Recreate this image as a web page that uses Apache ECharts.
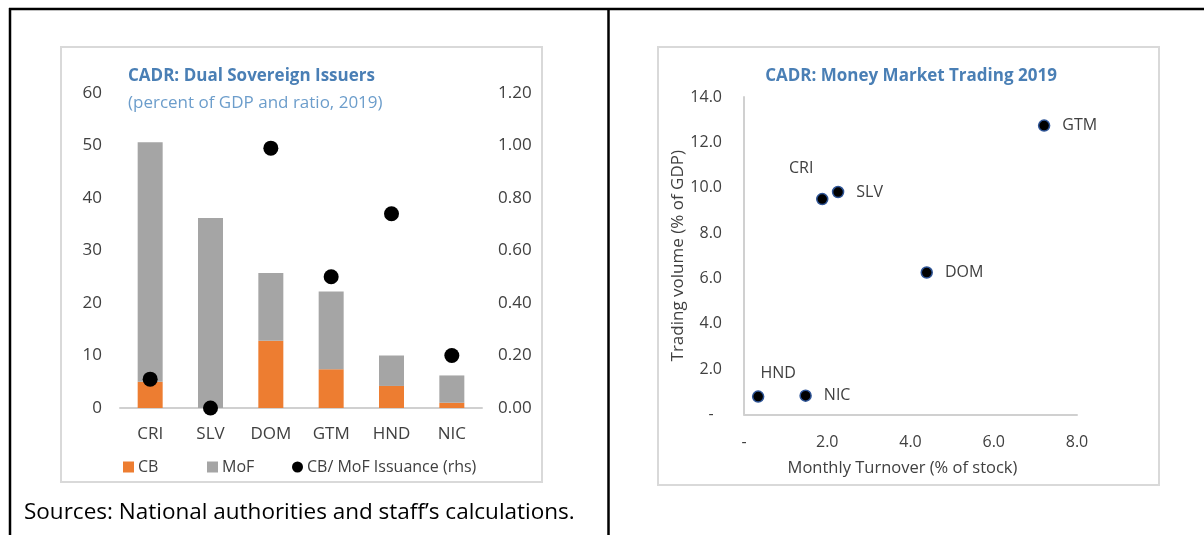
<!DOCTYPE html>
<html>
<head>
<meta charset="utf-8">
<script src="https://cdn.jsdelivr.net/npm/echarts@6/dist/echarts.min.js"></script>
<style>
html,body{margin:0;padding:0;background:#fff;}
#c{width:1204px;height:535px;}
</style>
</head>
<body>
<div id="c"></div>
<script>
// ---- Left chart data ----
const issuers = ['CRI', 'SLV', 'DOM', 'GTM', 'HND', 'NIC'];
const cbValues = [5.0, 0.0, 12.8, 7.4, 4.2, 1.0];
const mofValues = [45.6, 36.2, 12.9, 14.8, 5.8, 5.2];
const ratioValues = [0.11, 0.00, 0.99, 0.50, 0.74, 0.20];
const leftTicks = [0, 10, 20, 30, 40, 50, 60];
const rightTicks = ['0.00', '0.20', '0.40', '0.60', '0.80', '1.00', '1.20'];

// ---- Right chart data ----
const mmCountries = ['GTM', 'CRI', 'SLV', 'DOM', 'HND', 'NIC'];
const turnover = [7.21, 1.88, 2.26, 4.39, 0.34, 1.48];
const tradingVolume = [12.74, 9.50, 9.81, 6.26, 0.79, 0.83];

const FONT = 'Open Sans';
const TXT = '#404040';
const AX = '#D0D0D0';

const chart = echarts.init(document.getElementById('c'), null, {renderer: 'canvas'});

const labelPos = {
  CRI: {position: 'top', offset: [-21, -4]},
  HND: {position: 'top', offset: [20, 3]}
};

const mmData = mmCountries.map((n, i) => {
  const d = {name: n, value: [turnover[i], tradingVolume[i]]};
  if (labelPos[n]) d.label = labelPos[n];
  return d;
});

const fmtMM = v => (v === 0 ? '-  ' : v.toFixed(1));
const fmtMMx = v => (v === 0 ? '-' : v.toFixed(1));

const option = {
  animation: false,
  backgroundColor: '#fff',
  textStyle: {fontFamily: FONT},
  title: [
    {text: 'CADR: Dual Sovereign Issuers', left: 128, top: 68, padding: 0,
     textStyle: {fontFamily: FONT, fontSize: 17, fontWeight: 'bold', color: '#4A7FB5'}},
    {text: '(percent of GDP and ratio, 2019)', left: 128, top: 95, padding: 0,
     textStyle: {fontFamily: FONT, fontSize: 17, fontWeight: 'normal', color: '#6C9DCB'}},
    {text: 'CADR: Money Market Trading 2019', left: 911, textAlign: 'center', top: 68, padding: 0,
     textStyle: {fontFamily: FONT, fontSize: 17, fontWeight: 'bold', color: '#4A7FB5'}}
  ],
  graphic: [
    {type: 'rect', shape: {x: 61, y: 47, width: 481, height: 435}, style: {fill: 'none', stroke: '#D9D9D9', lineWidth: 2}, z: -1},
    {type: 'rect', shape: {x: 658, y: 47, width: 501, height: 438}, style: {fill: 'none', stroke: '#D9D9D9', lineWidth: 2}, z: -1},
    {type: 'line', shape: {x1: 9, y1: 9, x2: 1204, y2: 9}, style: {stroke: '#000', lineWidth: 2.5}},
    {type: 'line', shape: {x1: 10, y1: 8, x2: 10, y2: 535}, style: {stroke: '#000', lineWidth: 2.5}},
    {type: 'line', shape: {x1: 608.5, y1: 8, x2: 608.5, y2: 535}, style: {stroke: '#000', lineWidth: 2.5}},
    {type: 'text', left: 24, top: 501,
     style: {text: 'Sources: National authorities and staff\u2019s calculations.', fontFamily: FONT, fontSize: 22.5, fill: '#000'}}
  ],
  legend: [
    {data: [{name: 'CB', icon: 'rect'}], left: 118, top: 454, itemWidth: 11, itemHeight: 11, itemGap: 5,
     textStyle: {fontFamily: FONT, fontSize: 16, color: TXT, padding: [0, 0, 0, -1]}},
    {data: [{name: 'MoF', icon: 'rect'}], left: 202, top: 454, itemWidth: 11, itemHeight: 11,
     textStyle: {fontFamily: FONT, fontSize: 16, color: TXT, padding: [0, 0, 0, -1]}},
    {data: [{name: 'CB/ MoF Issuance (rhs)', icon: 'circle'}], left: 287, top: 454, itemWidth: 11, itemHeight: 11,
     textStyle: {fontFamily: FONT, fontSize: 16, color: TXT, padding: [0, 0, 0, -1]}}
  ],
  grid: [
    {left: 120, right: 722, top: 93, bottom: 127},
    {left: 744, right: 127, top: 97, bottom: 120.5}
  ],
  xAxis: [
    {type: 'category', gridIndex: 0, data: issuers,
     axisLine: {lineStyle: {color: AX, width: 2}}, axisTick: {show: false},
     axisLabel: {color: TXT, fontSize: 17, fontFamily: FONT, margin: 18}},
    {type: 'value', gridIndex: 1, min: 0, max: 8, interval: 2,
     name: 'Monthly Turnover (% of stock)', nameLocation: 'middle', nameGap: 45,
     nameTextStyle: {color: TXT, fontSize: 16.5, fontFamily: FONT, padding: [0, 16, 0, 0]},
     axisLine: {show: true, lineStyle: {color: AX, width: 2}}, axisTick: {show: false}, splitLine: {show: false},
     axisLabel: {color: TXT, fontSize: 16, fontFamily: FONT, margin: 20, formatter: fmtMMx}}
  ],
  yAxis: [
    {type: 'value', gridIndex: 0, min: 0, max: 60, interval: 10,
     axisLine: {show: false}, axisTick: {show: false}, splitLine: {show: false},
     axisLabel: {color: TXT, fontSize: 17, fontFamily: FONT, margin: 18,
       formatter: v => String(leftTicks[Math.round(v / 10)])}},
    {type: 'value', gridIndex: 0, position: 'right', min: 0, max: 1.2, interval: 0.2,
     axisLine: {show: false}, axisTick: {show: false}, splitLine: {show: false},
     axisLabel: {color: TXT, fontSize: 17, fontFamily: FONT, margin: 16,
       formatter: v => rightTicks[Math.round(v / 0.2)]}},
    {type: 'value', gridIndex: 1, min: 0, max: 14, interval: 2,
     name: 'Trading volume (% of GDP)', nameLocation: 'middle', nameGap: 50,
     nameTextStyle: {color: TXT, fontSize: 17, fontFamily: FONT},
     axisLine: {show: true, lineStyle: {color: AX, width: 2}}, axisTick: {show: false}, splitLine: {show: false},
     axisLabel: {color: TXT, fontSize: 16, fontFamily: FONT, margin: 22, formatter: fmtMM}}
  ],
  series: [
    {name: 'CB', type: 'bar', xAxisIndex: 0, yAxisIndex: 0, stack: 'tot', data: cbValues,
     barWidth: 25, itemStyle: {color: '#ED7D31'}},
    {name: 'MoF', type: 'bar', xAxisIndex: 0, yAxisIndex: 0, stack: 'tot', data: mofValues,
     barWidth: 25, itemStyle: {color: '#A5A5A5'}},
    {name: 'CB/ MoF Issuance (rhs)', type: 'scatter', xAxisIndex: 0, yAxisIndex: 1, data: ratioValues,
     symbolSize: 15, itemStyle: {color: '#000', opacity: 1}, z: 5},
    {name: 'Money market', type: 'scatter', xAxisIndex: 1, yAxisIndex: 2, data: mmData,
     symbolSize: 11, itemStyle: {color: '#000', borderColor: '#2F5597', borderWidth: 1.5, opacity: 1},
     label: {show: true, position: 'right', distance: 12, formatter: p => p.name,
       color: TXT, fontSize: 16, fontFamily: FONT}}
  ]
};
chart.setOption(option);
</script>
</body>
</html>
